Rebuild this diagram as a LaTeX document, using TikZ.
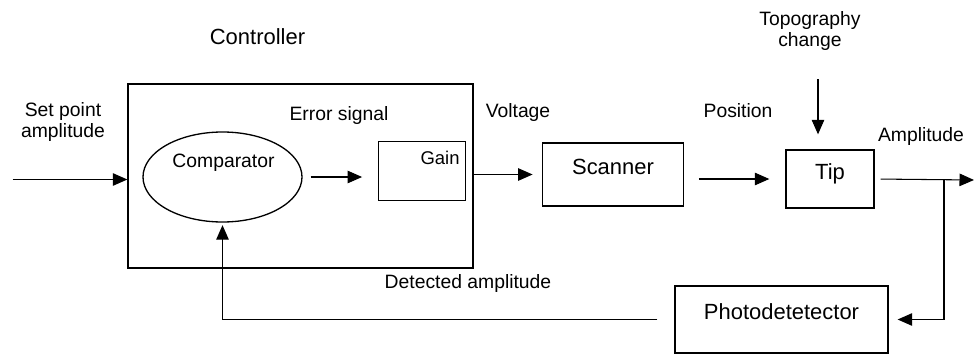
\documentclass[tikz,border=0pt]{standalone}
\usepackage{fontspec}
\setmainfont{Liberation Sans}
\usetikzlibrary{arrows.meta,shapes.geometric}

\begin{document}
\begin{tikzpicture}[
  sig/.style={line width=0.6pt,-{Triangle[length=2.9mm,width=2.5mm]}},
  blk/.style={draw,line width=0.75pt,inner sep=0pt},
  unit/.style={blk,font=\fontsize{12.5}{14}\selectfont,text depth=0.3cm},
  lbl/.style={font=\fontsize{11}{12}\selectfont,align=center,inner sep=0pt}]
\useasboundingbox (0,0) rectangle (19.48,7.12);
% controller block
\node[blk,minimum width=6.9cm,minimum height=3.68cm] (ctrl) at (6.01,3.60) {};
\node[lbl,font=\fontsize{12.5}{14}\selectfont] (ctrltxt) at (5.15,6.38) {Controller};
\node[blk,ellipse,minimum width=3.18cm,minimum height=1.8cm] (cmp) at (4.45,3.58) {};
\node[lbl] (cmptxt) at (4.47,3.86) {Comparator};
\node[blk,minimum width=1.73cm,minimum height=1.17cm] (gain) at (8.44,3.70) {};
\node[lbl,font=\fontsize{10.5}{12}\selectfont,anchor=north east] (gaintxt)
  at ([shift={(-0.12,-0.20)}]gain.north east) {Gain};
% plant
\node[unit,minimum width=2.81cm,minimum height=1.26cm] (scan) at (12.26,3.63) {Scanner};
\node[unit,minimum width=1.76cm,minimum height=1.16cm] (tip) at (16.60,3.54) {Tip};
\node[unit,minimum width=4.26cm,minimum height=1.34cm] (pd) at (15.63,0.73) {Photodetetector};
% labels
\node[lbl] (setp) at (1.26,4.68) {Set point\\amplitude};
\node[lbl] (err) at (6.78,4.82) {Error signal};
\node[lbl] (volt) at (10.36,4.88) {Voltage};
\node[lbl] (pos) at (14.76,4.90) {Position};
\node[lbl] (ampl) at (18.42,4.38) {Amplitude};
\node[lbl] (topo) at (16.20,6.50) {Topography\\change};
\node[lbl] (det) at (9.36,1.46) {Detected amplitude};
% free ends
\coordinate (in) at (0.25,3.53);
\coordinate (out) at (19.48,3.52);
\coordinate (down) at (16.36,5.54);
\coordinate (branch) at (18.88,3.52);
% connectors
\draw[sig] (in) -- (in -| ctrl.west);
\draw[sig,shorten <=0.16cm,shorten >=0.32cm] (cmp.east) -- (cmp.east -| gain.west);
\draw[sig,shorten >=0.19cm] (ctrl.east |- scan.west) -- (scan.west);
\draw[sig,shorten <=0.30cm,shorten >=0.32cm] (scan.east |- tip.west) -- (tip.west);
\draw[sig,shorten >=0.30cm] (down) -- (down |- tip.north);
\draw[sig,shorten <=0.12cm] (tip.east) -- (out);
\draw[sig,shorten >=0.18cm] (branch) |- (pd.east);
\draw[sig,shorten <=0.34cm,shorten >=0.05cm] (pd.west) -| (cmp.south);
\end{tikzpicture}
\end{document}
